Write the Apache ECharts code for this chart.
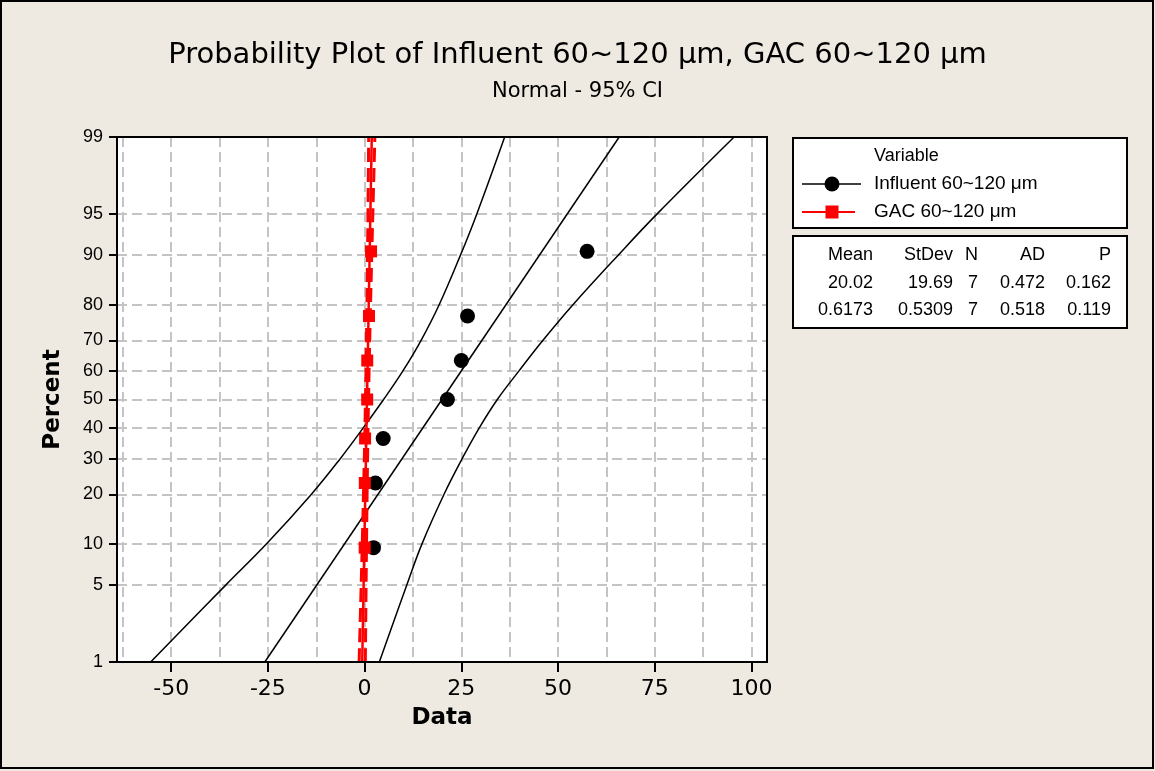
<!doctype html>
<html lang="en">
<head>
<meta charset="UTF-8">
<title>Probability Plot</title>
<style>
  html, body { margin: 0; padding: 0; background: #EEEAE1; }
  #main { width: 1155px; height: 771px; }
</style>
</head>
<body>
<div id="main"></div>
<script src="https://cdn.jsdelivr.net/npm/echarts@6/dist/echarts.min.js"></script>
<script>
// percent scale ticks (normal probability axis)
var pctTicks = [1, 5, 10, 20, 30, 40, 50, 60, 70, 80, 90, 95, 99];
var xLabelTicks = [-50, -25, 0, 25, 50, 75, 100];
var xGridTicks = [-62.5, -50, -37.5, -25, -12.5, 0, 12.5, 25, 37.5, 50, 62.5, 75, 87.5, 100];

// plotting positions of the 7 ordered observations (percent)
var rankPct = [9.46, 22.97, 36.49, 50, 63.51, 77.03, 90.54];
var influentData = [2.3, 2.8, 4.8, 21.4, 25.0, 26.6, 57.5];
var gacData = [0.02, 0.05, 0.12, 0.66, 0.68, 1.13, 1.66];

// fitted lines, read at 1% and 99%
var fitPct = [1, 99];
var influentFit = [-25.8, 65.8];
var gacFit = [-0.62, 1.85];

// 95% CI curves, read at each pctTicks level
var influentLower = [-55.3, -35.9, -25.4, -13.8, -6.3, -0.4, 4.9, 9.9, 14.6, 19.3, 24.8, 29.0, 36.2];
var influentUpper = [3.8, 10.9, 14.8, 20.5, 25.2, 29.6, 34.3, 39.9, 46.1, 53.9, 65.6, 75.6, 95.5];
var gacLower = [-1.42, -0.89, -0.61, -0.30, -0.08, 0.08, 0.22, 0.35, 0.47, 0.60, 0.75, 0.86, 1.05];
var gacUpper = [0.18, 0.38, 0.49, 0.64, 0.76, 0.88, 1.01, 1.15, 1.32, 1.53, 1.85, 2.12, 2.65];

// legend and stats table
var seriesNames = ['Influent 60~120 μm', 'GAC 60~120 μm'];
var statHeader = ['Mean', 'StDev', 'N', 'AD', 'P'];
var statRows = [
  ['20.02', '19.69', '7', '0.472', '0.162'],
  ['0.6173', '0.5309', '7', '0.518', '0.119']
];

// inverse normal cdf (Acklam) -> maps percent onto the probability axis
function probit(p) {
  var a = [-3.969683028665376e+01, 2.209460984245205e+02, -2.759285104469687e+02, 1.383577518672690e+02, -3.066479806614716e+01, 2.506628277459239e+00];
  var b = [-5.447609879822406e+01, 1.615858368580409e+02, -1.556989798598866e+02, 6.680131188771972e+01, -1.328068155288572e+01];
  var c = [-7.784894002430293e-03, -3.223964580411365e-01, -2.400758277161838e+00, -2.549671010135049e+00, 4.374664141464968e+00, 2.938163982698783e+00];
  var d = [7.784695709041462e-03, 3.224671290700398e-01, 2.445134137142996e+00, 3.754408661907416e+00];
  var pl = 0.02425, q, r;
  if (p < pl) {
    q = Math.sqrt(-2 * Math.log(p));
    return (((((c[0]*q+c[1])*q+c[2])*q+c[3])*q+c[4])*q+c[5]) / ((((d[0]*q+d[1])*q+d[2])*q+d[3])*q+1);
  }
  if (p > 1 - pl) {
    q = Math.sqrt(-2 * Math.log(1 - p));
    return -(((((c[0]*q+c[1])*q+c[2])*q+c[3])*q+c[4])*q+c[5]) / ((((d[0]*q+d[1])*q+d[2])*q+d[3])*q+1);
  }
  q = p - 0.5; r = q * q;
  return (((((a[0]*r+a[1])*r+a[2])*r+a[3])*r+a[4])*r+a[5])*q / (((((b[0]*r+b[1])*r+b[2])*r+b[3])*r+b[4])*r+1);
}

function toPoints(xs, pcts) {
  return xs.map(function (x, i) { return [x, probit(pcts[i] / 100)]; });
}

var yTickVals = pctTicks.map(function (p) { return probit(p / 100); });
function pctLabel(v) {
  for (var i = 0; i < yTickVals.length; i++) {
    if (Math.abs(yTickVals[i] - v) < 1e-6) return String(pctTicks[i]);
  }
  return '';
}

var myChart = echarts.init(document.getElementById('main'));

var gridL = 117, gridT = 137, gridW = 650, gridH = 525;
var sans = '"Liberation Sans", Arial, sans-serif';
var wide = '"DejaVu Sans", sans-serif';

// legend + table graphics
var g = [];
g.push({ type: 'rect', shape: { x: gridL, y: gridT, width: gridW, height: gridH }, style: { fill: 'none', stroke: '#000', lineWidth: 2 }, z: 100, silent: true });
g.push({ type: 'rect', shape: { x: 1, y: 1, width: 1152, height: 767 }, style: { fill: 'none', stroke: '#000', lineWidth: 2 }, z: 100, silent: true });
g.push({ type: 'rect', shape: { x: 793, y: 138, width: 334, height: 90 }, style: { fill: '#fff', stroke: '#000', lineWidth: 2 } });
g.push({ type: 'text', x: 874, y: 156, style: { text: 'Variable', fontSize: 18, fontFamily: sans, fill: '#000', verticalAlign: 'middle' } });
g.push({ type: 'line', shape: { x1: 802, y1: 184, x2: 861, y2: 184 }, style: { stroke: '#000', lineWidth: 1.5 } });
g.push({ type: 'circle', shape: { cx: 832, cy: 184, r: 7.5 }, style: { fill: '#000' } });
g.push({ type: 'text', x: 874, y: 184, style: { text: seriesNames[0], fontSize: 19, fontFamily: sans, fill: '#000', verticalAlign: 'middle' } });
g.push({ type: 'line', shape: { x1: 802, y1: 212, x2: 855, y2: 212 }, style: { stroke: '#f00', lineWidth: 2 } });
g.push({ type: 'rect', shape: { x: 825.5, y: 205.5, width: 13, height: 13 }, style: { fill: '#f00' } });
g.push({ type: 'text', x: 874, y: 212, style: { text: seriesNames[1], fontSize: 19, fontFamily: sans, fill: '#000', verticalAlign: 'middle' } });

g.push({ type: 'rect', shape: { x: 793, y: 236, width: 334, height: 92 }, style: { fill: '#fff', stroke: '#000', lineWidth: 2 } });
var colRight = [873, 953, 978, 1045, 1111];
var rowY = [255, 283, 310];
[statHeader].concat(statRows).forEach(function (row, r) {
  row.forEach(function (txt, c) {
    g.push({ type: 'text', x: colRight[c], y: rowY[r], style: { text: txt, fontSize: 18, fontFamily: sans, fill: '#000', align: 'right', verticalAlign: 'middle' } });
  });
});

var option = {
  backgroundColor: '#EEEAE1',
  animation: false,
  title: [
    { text: 'Probability Plot of Influent 60~120 μm, GAC 60~120 μm', left: 'center', top: 41, padding: 0,
      textStyle: { fontFamily: wide, fontSize: 29, fontWeight: 'normal', color: '#000' } },
    { text: 'Normal - 95% CI', left: 'center', top: 81, padding: 0,
      textStyle: { fontFamily: wide, fontSize: 21, fontWeight: 'normal', color: '#000' } }
  ],
  grid: { left: gridL, top: gridT, width: gridW, height: gridH, show: true, backgroundColor: '#fff', borderWidth: 0 },
  xAxis: [
    {
      type: 'value', min: -64, max: 104, position: 'bottom',
      name: 'Data', nameLocation: 'middle', nameGap: 45,
      nameTextStyle: { fontFamily: wide, fontSize: 23, fontWeight: 'bold', color: '#000' },
      axisLine: { show: true, onZero: false, lineStyle: { color: '#000', width: 2 } },
      axisTick: { show: true, customValues: xLabelTicks, length: 10, lineStyle: { color: '#000', width: 2 } },
      axisLabel: { customValues: xLabelTicks, fontFamily: wide, fontSize: 22, color: '#000', margin: 16 },
      splitLine: { show: false }
    },
    {
      type: 'value', min: -64, max: 104, position: 'bottom',
      axisLine: { show: false }, axisLabel: { show: false },
      axisTick: { show: false, customValues: xGridTicks },
      splitLine: { show: true, lineStyle: { color: '#c4c4c4', width: 2, type: [10, 5] } }
    }
  ],
  yAxis: {
    type: 'value', min: probit(0.01), max: probit(0.99),
    name: 'Percent', nameLocation: 'middle', nameGap: 52, nameRotate: 90,
    nameTextStyle: { fontFamily: wide, fontSize: 23, fontWeight: 'bold', color: '#000' },
    axisLine: { show: true, onZero: false, lineStyle: { color: '#000', width: 2 } },
    axisTick: { show: true, customValues: yTickVals, length: 8, lineStyle: { color: '#000', width: 2 } },
    axisLabel: { customValues: yTickVals, formatter: pctLabel, fontFamily: sans, fontSize: 18, color: '#000', margin: 14 },
    splitLine: { show: true, lineStyle: { color: '#c4c4c4', width: 2, type: [10, 5] } }
  },
  series: [
    { type: 'line', data: toPoints(influentLower, pctTicks), smooth: 0.4, showSymbol: false, lineStyle: { color: '#000', width: 1.5 } },
    { type: 'line', data: toPoints(influentUpper, pctTicks), smooth: 0.4, showSymbol: false, lineStyle: { color: '#000', width: 1.5 } },
    { type: 'line', data: toPoints(influentFit, fitPct), showSymbol: false, lineStyle: { color: '#000', width: 1.5 } },
    { type: 'scatter', data: toPoints(influentData, rankPct), symbol: 'circle', symbolSize: 15, itemStyle: { color: '#000', opacity: 1 } },
    { type: 'line', data: toPoints(gacLower, pctTicks), smooth: 0.4, showSymbol: false, lineStyle: { color: '#f00', width: 3, type: [14, 6] } },
    { type: 'line', data: toPoints(gacUpper, pctTicks), smooth: 0.4, showSymbol: false, lineStyle: { color: '#f00', width: 3, type: [14, 6] } },
    { type: 'line', data: toPoints(gacFit, fitPct), showSymbol: false, lineStyle: { color: '#f00', width: 2.5 } },
    { type: 'scatter', data: toPoints(gacData, rankPct), symbol: 'rect', symbolSize: 12, itemStyle: { color: '#f00', opacity: 1 } }
  ],
  graphic: g
};

myChart.setOption(option);
</script>
</body>
</html>
